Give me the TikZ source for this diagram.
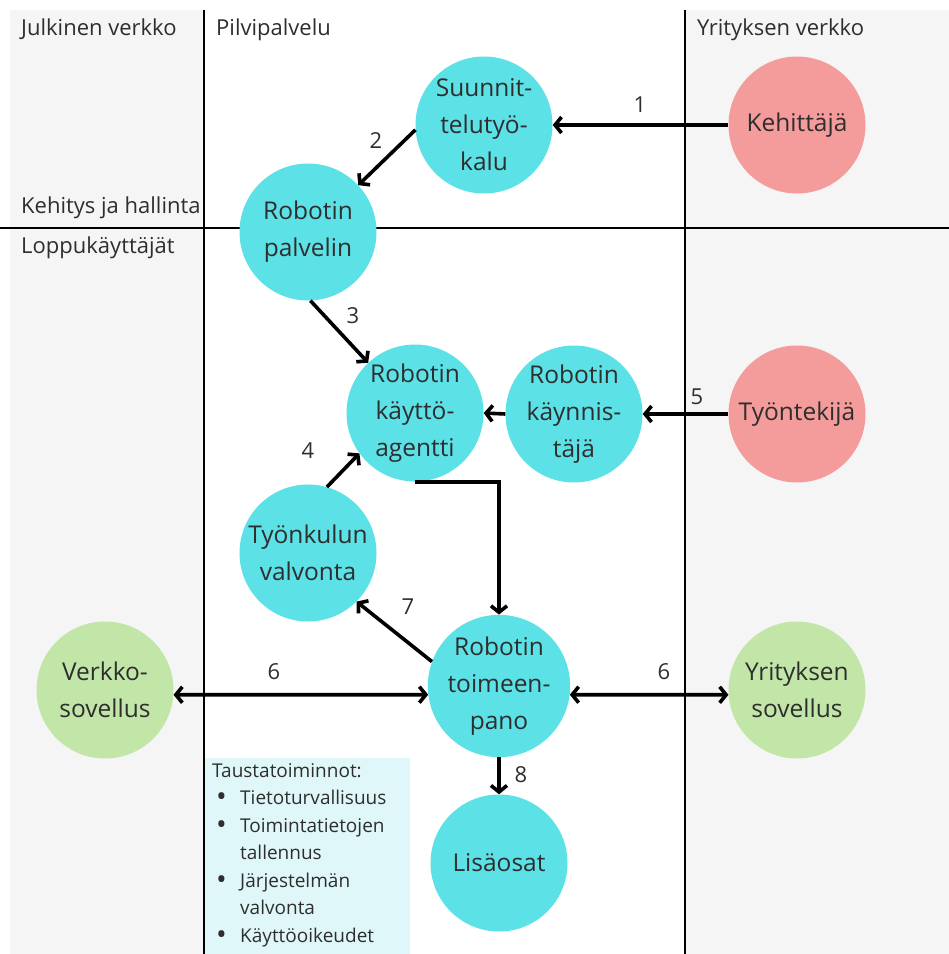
\documentclass[tikz,border=0pt]{standalone}
\usepackage{fontspec}
\setmainfont{Open Sans}
\usetikzlibrary{arrows.meta}
\definecolor{cy}{HTML}{5CE1E6}
\definecolor{pk}{HTML}{F49B9B}
\definecolor{gr}{HTML}{C2E5A8}
\definecolor{bgray}{HTML}{F5F5F5}
\definecolor{boxc}{HTML}{DFF7F9}
\definecolor{txt}{HTML}{2E2E2E}
\newcommand{\bul}{\makebox[28pt][l]{\hspace{4pt}\raisebox{-2.3pt}{\scalebox{1.5}{\textbullet}}}}
\newcommand{\ind}{\hspace*{28pt}}
\begin{document}
\begin{tikzpicture}[x=1pt,y=-1pt,
  ball/.style={circle,minimum size=137pt,inner sep=0pt,align=center,
    font=\fontsize{24.5pt}{37pt}\selectfont,text=txt},
  cyb/.style={ball,fill=cy},
  pkb/.style={ball,fill=pk},
  grb/.style={ball,fill=gr},
  lab/.style={anchor=base west,font=\fontsize{22pt}{26pt}\selectfont,text=txt,inner sep=0pt},
  num/.style={font=\fontsize{22pt}{26pt}\selectfont,text=txt,inner sep=0pt},
  sep/.style={line width=1.6pt,black},
  arr/.style={line width=3.6pt,-{Straight Barb[length=6.5pt,width=16pt]}},
  darr/.style={line width=3.6pt,{Straight Barb[length=6.5pt,width=16pt]}-{Straight Barb[length=6.5pt,width=16pt]}}
]
\useasboundingbox (0,0) rectangle (949,954);
\fill[bgray] (10,10) rectangle (204,954);
\fill[bgray] (685,10) rectangle (949,954);
\fill[boxc] (205,758) rectangle (410,954);
\draw[sep] (204,10) -- (204,954);
\draw[sep] (685,10) -- (685,954);
\draw[sep] (0,228) -- (949,228);

\node[lab] (l1) at (21,35) {Julkinen verkko};
\node[lab] (l2) at (216,35) {Pilvipalvelu};
\node[lab] (l3) at (697,35) {Yrityksen verkko};
\node[lab] (l4) at (21,213) {Kehitys ja hallinta};
\node[lab] (l5) at (21,253) {Loppukäyttäjät};

\node[cyb] (suun) at (484,125) {Suunnit-\\telutyö-\\kalu};
\node[pkb] (kehit) at (797,125) {Kehittäjä};
\node[cyb] (palv) at (308,232) {Robotin\\palvelin};
\node[cyb] (agent) at (415,413) {Robotin\\käyttö-\\agentti};
\node[cyb] (kaynn) at (574,414) {Robotin\\käynnis-\\täjä};
\node[pkb] (tyont) at (797,414) {Työntekijä};
\node[cyb] (valv) at (308,553) {Työnkulun\\valvonta};
\node[cyb] (toim) at (499,686) {Robotin\\toimeen-\\pano};
\node[grb] (verk) at (105,690) {Verkko-\\sovellus};
\node[grb] (yrit) at (797,690) {Yrityksen\\sovellus};
\node[cyb] (lisa) at (499,863) {Lisäosat};

\draw[arr] (kehit.west) -- (suun.east);
\draw[arr] (suun.184) -- (palv.43);
\draw[arr] (palv.272) -- (agent.133);
\draw[arr] (valv.74) -- (agent.216);
\draw[arr] (tyont.west) -- (kaynn.east);
\draw[arr] (kaynn.west) -- (agent.east);
\draw[arr] (agent.south) -| (toim.north);
\draw[arr] (toim.160) -- (valv.315);
\draw[darr] (verk.-4) -- (toim.187.5);
\draw[darr] (toim.-7.5) -- (yrit.184);
\draw[arr] (toim.south) -- (lisa.north);

\node[num] (n1) at (640,105) {1};
\node[num] (n2) at (376,141) {2};
\node[num] (n3) at (353,316) {3};
\node[num] (n4) at (308,451) {4};
\node[num] (n5) at (697,397) {5};
\node[num] (n6a) at (274,672) {6};
\node[num] (n6b) at (664,672) {6};
\node[num] (n7) at (408,607) {7};
\node[num] (n8) at (521,775) {8};

\node[anchor=north west,inner sep=0pt,align=left,text=txt,
  font=\fontsize{19pt}{27.5pt}\selectfont] (box) at (212,763)
  {Taustatoiminnot:\\
   \bul Tietoturvallisuus\\
   \bul Toimintatietojen\\
   \ind tallennus\\
   \bul Järjestelmän\\
   \ind valvonta\\
   \bul Käyttöoikeudet};
\end{tikzpicture}
\end{document}
